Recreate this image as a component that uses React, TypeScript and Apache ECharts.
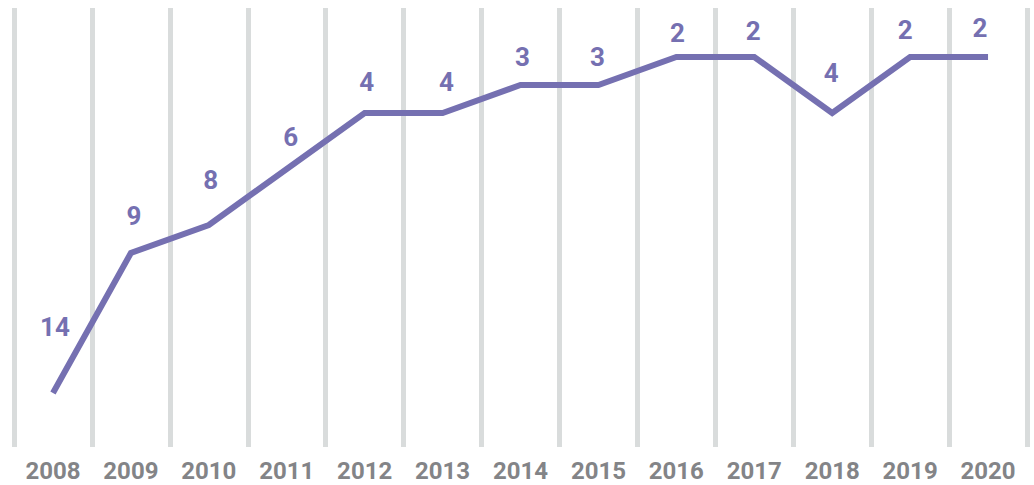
import React, { useEffect, useRef } from "react";
import * as echarts from "echarts";

const years = ["2008", "2009", "2010", "2011", "2012", "2013", "2014", "2015", "2016", "2017", "2018", "2019", "2020"];
const ranks = [14, 9, 8, 6, 4, 4, 3, 3, 2, 2, 4, 2, 2];

// label nudges (style only): [dx, dy] relative to each point
const labelNudges: [number, number][] = [
  [2, -66], [3, -37], [2, -45], [4, -32], [2, -31], [4, -31], [2, -28],
  [-1, -28], [1, -24], [-1, -26], [-1, -40], [-5, -27], [-8, -29],
];

const PURPLE = "#7570b1";
const GRAY = "#838487";
const FONT = "Roboto, 'Open Sans', sans-serif";

export default function App() {
  const ref = useRef<HTMLDivElement>(null);
  useEffect(() => {
    document.body.style.margin = "0";
    if (!ref.current) return;
    const chart = echarts.init(ref.current, null, { renderer: "svg" });
    chart.setOption({
      animation: false,
      grid: { left: 14, right: 7, top: 8, bottom: 38 },
      xAxis: {
        type: "category",
        data: years,
        boundaryGap: true,
        axisLine: { show: false },
        axisTick: { show: false },
        splitLine: { show: true, lineStyle: { color: "#d9dcdc", width: 5 } },
        axisLabel: {
          color: GRAY,
          fontFamily: FONT,
          fontWeight: "bold",
          fontSize: 24,
          margin: 12,
          interval: 0,
        },
      },
      yAxis: {
        type: "value",
        inverse: true,
        min: 0.25,
        max: 15.93,
        show: false,
        splitLine: { show: false },
      },
      series: [
        {
          type: "line",
          data: ranks.map((v, i) => ({
            value: v,
            label: { offset: labelNudges[i] },
          })),
          symbol: "circle",
          symbolSize: 1,
          showSymbol: true,
          itemStyle: { color: "rgba(0,0,0,0)" },
          lineStyle: { color: PURPLE, width: 6, join: "miter", cap: "butt" },
          label: {
            show: true,
            position: "inside",
            color: PURPLE,
            fontFamily: FONT,
            fontWeight: "bold",
            fontSize: 26,
          },
          emphasis: { disabled: true },
        },
      ],
    });
    return () => chart.dispose();
  }, []);
  return <div ref={ref} style={{ width: 1034, height: 485 }} />;
}
